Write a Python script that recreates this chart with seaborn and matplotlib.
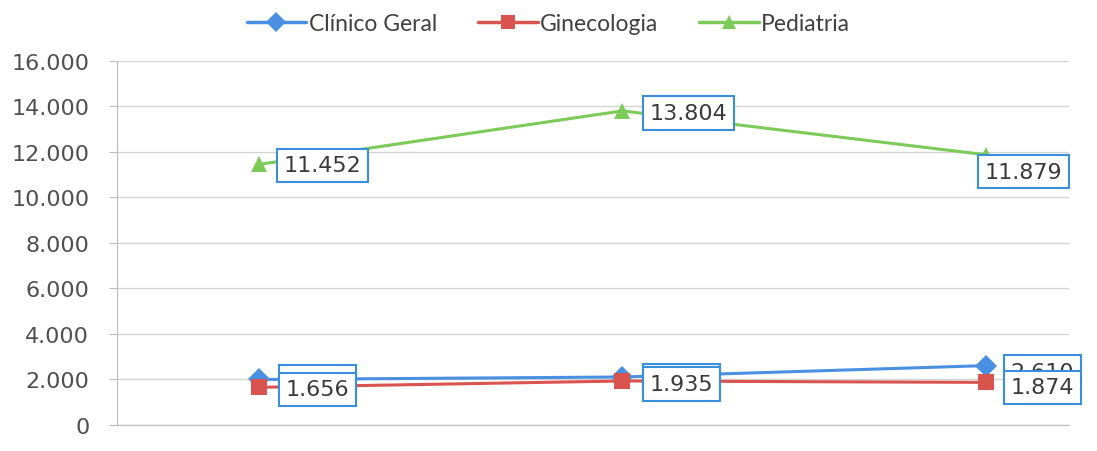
import pandas as pd
import seaborn as sns
import matplotlib.pyplot as plt

# dados
periodos = ["P1", "P2", "P3"]
clinico_geral = [2000, 2110, 2610]
ginecologia = [1656, 1935, 1874]
pediatria = [11452, 13804, 11879]
yticks = [0, 2000, 4000, 6000, 8000, 10000, 12000, 14000, 16000]

series = ["Clínico Geral", "Ginecologia", "Pediatria"]
cores = {"Clínico Geral": "#4a90e2", "Ginecologia": "#d9534f", "Pediatria": "#7ccb58"}
marcadores = {"Clínico Geral": "D", "Ginecologia": "s", "Pediatria": "^"}

df = pd.DataFrame({
    "periodo": periodos * 3,
    "x": [0, 1, 2] * 3,
    "valor": clinico_geral + ginecologia + pediatria,
    "serie": ["Clínico Geral"] * 3 + ["Ginecologia"] * 3 + ["Pediatria"] * 3,
})

sns.set_style("white")
plt.rcParams["font.family"] = ["DejaVu Sans"]

fig = plt.figure(figsize=(10.97, 4.52), dpi=100)
ax = fig.add_axes([0.1067, 0.0575, 0.868, 0.8055])

sns.lineplot(data=df, x="x", y="valor", hue="serie", style="serie",
             palette=cores, markers=marcadores, dashes=False,
             linewidth=2.2, markersize=11, markeredgewidth=0, ax=ax, legend=False)

def fmt(v):
    return f"{v:,}".replace(",", ".")

caixa = dict(boxstyle="square,pad=0.3", fc="white", ec="#3a8fdc", lw=1.5)
# deslocamento (px) dos rotulos em relacao ao ponto
desloc = {
    "Clínico Geral": [(27, -2), (27, -4), (25, -6)],
    "Ginecologia": [(27, -2), (27, -3), (25, -5)],
    "Pediatria": [(25, -1), (27, -2), (-1, -17)],
}
for nome, vals in zip(series, [clinico_geral, ginecologia, pediatria]):
    for i, v in enumerate(vals):
        ax.annotate(fmt(v), (i, v), xytext=desloc[nome][i], textcoords="offset pixels",
                    ha="left", va="center", fontsize=16, color="#3a3a3a", bbox=caixa,
                    annotation_clip=False, zorder=5)

ax.set_xlim(-0.39, 2.23)
ax.set_ylim(0, 16000)
ax.set_yticks(yticks)
ax.set_yticklabels([fmt(t) for t in yticks], fontsize=16, color="#505050")
ax.set_xticks([])
ax.set_xlabel("")
ax.set_ylabel("")
ax.grid(axis="y", color="#d4d4d4", lw=1)
ax.tick_params(axis="y", left=True, length=6, color="#bbbbbb", pad=14)
for s in ["top", "right"]:
    ax.spines[s].set_visible(False)
ax.spines["left"].set_color("#bbbbbb")
ax.spines["bottom"].set_color("#bbbbbb")

handles = [plt.Line2D([], [], color=cores[n], marker=marcadores[n], lw=2.5,
                      markersize=10, markeredgewidth=0) for n in series]
fig.legend(handles, series, loc="upper center", bbox_to_anchor=(0.5, 1.015), ncol=3,
           frameon=False, handlelength=2.6, handletextpad=0.1, columnspacing=1.8,
           prop={"family": "Lato", "size": 16.5}, labelcolor="#404040")

fig.savefig("out.png", dpi=100)
